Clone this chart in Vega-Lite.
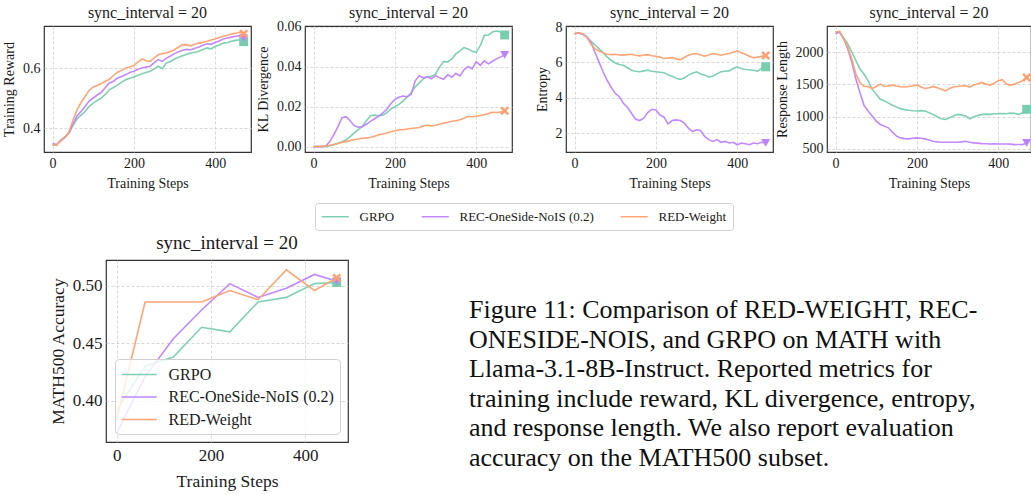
{
"$schema": "https://vega.github.io/schema/vega-lite/v6.json",
"background": "white",
"padding": {"left": 1, "top": 4, "right": 0, "bottom": 0},
"datasets": {
"reward": [
{"step":0,"GRPO":0.345,"REC":0.348,"RED":0.342},
{"step":10,"GRPO":0.342,"REC":0.345,"RED":0.344},
{"step":20,"GRPO":0.360,"REC":0.358,"RED":0.356},
{"step":30,"GRPO":0.370,"REC":0.368,"RED":0.369},
{"step":40,"GRPO":0.383,"REC":0.383,"RED":0.385},
{"step":50,"GRPO":0.408,"REC":0.412,"RED":0.425},
{"step":60,"GRPO":0.430,"REC":0.440,"RED":0.460},
{"step":70,"GRPO":0.443,"REC":0.455,"RED":0.485},
{"step":80,"GRPO":0.455,"REC":0.472,"RED":0.505},
{"step":90,"GRPO":0.472,"REC":0.490,"RED":0.525},
{"step":100,"GRPO":0.483,"REC":0.500,"RED":0.537},
{"step":110,"GRPO":0.492,"REC":0.510,"RED":0.542},
{"step":120,"GRPO":0.500,"REC":0.519,"RED":0.548},
{"step":130,"GRPO":0.512,"REC":0.535,"RED":0.556},
{"step":140,"GRPO":0.528,"REC":0.550,"RED":0.563},
{"step":150,"GRPO":0.535,"REC":0.556,"RED":0.575},
{"step":160,"GRPO":0.544,"REC":0.567,"RED":0.586},
{"step":170,"GRPO":0.553,"REC":0.572,"RED":0.592},
{"step":180,"GRPO":0.561,"REC":0.578,"RED":0.600},
{"step":190,"GRPO":0.566,"REC":0.585,"RED":0.603},
{"step":200,"GRPO":0.570,"REC":0.589,"RED":0.608},
{"step":210,"GRPO":0.576,"REC":0.596,"RED":0.620},
{"step":220,"GRPO":0.581,"REC":0.600,"RED":0.630},
{"step":230,"GRPO":0.585,"REC":0.603,"RED":0.624},
{"step":240,"GRPO":0.589,"REC":0.606,"RED":0.622},
{"step":250,"GRPO":0.597,"REC":0.618,"RED":0.634},
{"step":260,"GRPO":0.606,"REC":0.628,"RED":0.644},
{"step":270,"GRPO":0.598,"REC":0.622,"RED":0.648},
{"step":280,"GRPO":0.617,"REC":0.633,"RED":0.650},
{"step":290,"GRPO":0.622,"REC":0.640,"RED":0.655},
{"step":300,"GRPO":0.630,"REC":0.648,"RED":0.661},
{"step":310,"GRPO":0.636,"REC":0.654,"RED":0.670},
{"step":320,"GRPO":0.641,"REC":0.659,"RED":0.678},
{"step":330,"GRPO":0.646,"REC":0.662,"RED":0.677},
{"step":340,"GRPO":0.650,"REC":0.661,"RED":0.674},
{"step":350,"GRPO":0.652,"REC":0.666,"RED":0.679},
{"step":360,"GRPO":0.656,"REC":0.670,"RED":0.683},
{"step":370,"GRPO":0.662,"REC":0.676,"RED":0.686},
{"step":380,"GRPO":0.667,"REC":0.681,"RED":0.689},
{"step":390,"GRPO":0.664,"REC":0.679,"RED":0.693},
{"step":400,"GRPO":0.672,"REC":0.686,"RED":0.697},
{"step":410,"GRPO":0.677,"REC":0.690,"RED":0.702},
{"step":420,"GRPO":0.683,"REC":0.697,"RED":0.706},
{"step":430,"GRPO":0.685,"REC":0.700,"RED":0.709},
{"step":440,"GRPO":0.689,"REC":0.703,"RED":0.713},
{"step":450,"GRPO":0.692,"REC":0.706,"RED":0.716},
{"step":460,"GRPO":0.694,"REC":0.708,"RED":0.719},
{"step":470,"GRPO":0.688,"REC":0.700,"RED":0.714}
],
"kl": [
{"step":0,"GRPO":0,"REC":0,"RED":0},
{"step":10,"GRPO":0,"REC":0,"RED":0},
{"step":20,"GRPO":0,"REC":0,"RED":0.0001},
{"step":30,"GRPO":0.0001,"REC":0.0003,"RED":0.0003},
{"step":40,"GRPO":0.0004,"REC":0.0025,"RED":0.0007},
{"step":50,"GRPO":0.0010,"REC":0.0060,"RED":0.0011},
{"step":60,"GRPO":0.0017,"REC":0.0100,"RED":0.0016},
{"step":70,"GRPO":0.0025,"REC":0.0145,"RED":0.0021},
{"step":80,"GRPO":0.0034,"REC":0.0150,"RED":0.0025},
{"step":90,"GRPO":0.0050,"REC":0.0130,"RED":0.0030},
{"step":100,"GRPO":0.0068,"REC":0.0105,"RED":0.0034},
{"step":110,"GRPO":0.0085,"REC":0.0097,"RED":0.0038},
{"step":120,"GRPO":0.0101,"REC":0.0100,"RED":0.0042},
{"step":130,"GRPO":0.0130,"REC":0.0112,"RED":0.0044},
{"step":140,"GRPO":0.0155,"REC":0.0127,"RED":0.0046},
{"step":150,"GRPO":0.0158,"REC":0.0140,"RED":0.0052},
{"step":160,"GRPO":0.0155,"REC":0.0152,"RED":0.0059},
{"step":170,"GRPO":0.0158,"REC":0.0168,"RED":0.0063},
{"step":180,"GRPO":0.0169,"REC":0.0186,"RED":0.0068},
{"step":190,"GRPO":0.0188,"REC":0.0215,"RED":0.0075},
{"step":200,"GRPO":0.0200,"REC":0.0237,"RED":0.0080},
{"step":210,"GRPO":0.0212,"REC":0.0248,"RED":0.0083},
{"step":220,"GRPO":0.0228,"REC":0.0254,"RED":0.0085},
{"step":230,"GRPO":0.0248,"REC":0.0250,"RED":0.0088},
{"step":240,"GRPO":0.0270,"REC":0.0262,"RED":0.0091},
{"step":250,"GRPO":0.0300,"REC":0.0330,"RED":0.0093},
{"step":260,"GRPO":0.0320,"REC":0.0355,"RED":0.0096},
{"step":270,"GRPO":0.0340,"REC":0.0345,"RED":0.0104},
{"step":280,"GRPO":0.0352,"REC":0.0350,"RED":0.0107},
{"step":290,"GRPO":0.0352,"REC":0.0340,"RED":0.0104},
{"step":300,"GRPO":0.0363,"REC":0.0356,"RED":0.0107},
{"step":310,"GRPO":0.0400,"REC":0.0345,"RED":0.0112},
{"step":320,"GRPO":0.0426,"REC":0.0338,"RED":0.0118},
{"step":330,"GRPO":0.0425,"REC":0.0360,"RED":0.0122},
{"step":340,"GRPO":0.0440,"REC":0.0348,"RED":0.0127},
{"step":350,"GRPO":0.0465,"REC":0.0368,"RED":0.0130},
{"step":360,"GRPO":0.0480,"REC":0.0355,"RED":0.0135},
{"step":370,"GRPO":0.0497,"REC":0.0385,"RED":0.0142},
{"step":380,"GRPO":0.0490,"REC":0.0402,"RED":0.0152},
{"step":390,"GRPO":0.0478,"REC":0.0390,"RED":0.0150},
{"step":400,"GRPO":0.0473,"REC":0.0426,"RED":0.0152},
{"step":410,"GRPO":0.0507,"REC":0.0408,"RED":0.0156},
{"step":420,"GRPO":0.0558,"REC":0.0430,"RED":0.0160},
{"step":430,"GRPO":0.0560,"REC":0.0415,"RED":0.0166},
{"step":440,"GRPO":0.0575,"REC":0.0428,"RED":0.0172},
{"step":450,"GRPO":0.0580,"REC":0.0440,"RED":0.0171},
{"step":460,"GRPO":0.0575,"REC":0.0450,"RED":0.0174},
{"step":470,"GRPO":0.0560,"REC":0.0460,"RED":0.0180}
],
"entropy": [
{"step":0,"GRPO":7.62,"REC":7.62,"RED":7.62},
{"step":10,"GRPO":7.66,"REC":7.66,"RED":7.68},
{"step":20,"GRPO":7.62,"REC":7.60,"RED":7.62},
{"step":30,"GRPO":7.45,"REC":7.44,"RED":7.44},
{"step":40,"GRPO":7.20,"REC":7.16,"RED":7.06},
{"step":50,"GRPO":7.00,"REC":6.59,"RED":6.78},
{"step":60,"GRPO":6.78,"REC":6.03,"RED":6.65},
{"step":70,"GRPO":6.55,"REC":5.47,"RED":6.54},
{"step":80,"GRPO":6.31,"REC":5.00,"RED":6.46},
{"step":90,"GRPO":6.12,"REC":4.59,"RED":6.44},
{"step":100,"GRPO":5.97,"REC":4.25,"RED":6.46},
{"step":110,"GRPO":5.88,"REC":4.06,"RED":6.42},
{"step":120,"GRPO":5.84,"REC":3.69,"RED":6.41},
{"step":130,"GRPO":5.70,"REC":3.46,"RED":6.44},
{"step":140,"GRPO":5.56,"REC":3.12,"RED":6.46},
{"step":150,"GRPO":5.50,"REC":2.79,"RED":6.40},
{"step":160,"GRPO":5.47,"REC":2.71,"RED":6.37},
{"step":170,"GRPO":5.52,"REC":2.84,"RED":6.42},
{"step":180,"GRPO":5.56,"REC":3.16,"RED":6.44},
{"step":190,"GRPO":5.50,"REC":3.35,"RED":6.38},
{"step":200,"GRPO":5.47,"REC":3.31,"RED":6.35},
{"step":210,"GRPO":5.44,"REC":3.03,"RED":6.30},
{"step":220,"GRPO":5.41,"REC":2.90,"RED":6.22},
{"step":230,"GRPO":5.30,"REC":2.52,"RED":6.25},
{"step":240,"GRPO":5.22,"REC":2.71,"RED":6.27},
{"step":250,"GRPO":5.10,"REC":2.75,"RED":6.20},
{"step":260,"GRPO":5.04,"REC":2.71,"RED":6.16},
{"step":270,"GRPO":5.12,"REC":2.56,"RED":6.28},
{"step":280,"GRPO":5.28,"REC":2.28,"RED":6.41},
{"step":290,"GRPO":5.38,"REC":2.09,"RED":6.48},
{"step":300,"GRPO":5.47,"REC":2.19,"RED":6.50},
{"step":310,"GRPO":5.35,"REC":2.15,"RED":6.42},
{"step":320,"GRPO":5.28,"REC":1.81,"RED":6.35},
{"step":330,"GRPO":5.18,"REC":1.63,"RED":6.42},
{"step":340,"GRPO":5.22,"REC":1.53,"RED":6.50},
{"step":350,"GRPO":5.35,"REC":1.63,"RED":6.46},
{"step":360,"GRPO":5.47,"REC":1.48,"RED":6.41},
{"step":370,"GRPO":5.50,"REC":1.53,"RED":6.46},
{"step":380,"GRPO":5.52,"REC":1.44,"RED":6.50},
{"step":390,"GRPO":5.65,"REC":1.48,"RED":6.58},
{"step":400,"GRPO":5.75,"REC":1.34,"RED":6.65},
{"step":410,"GRPO":5.65,"REC":1.44,"RED":6.55},
{"step":420,"GRPO":5.60,"REC":1.40,"RED":6.46},
{"step":430,"GRPO":5.58,"REC":1.34,"RED":6.35},
{"step":440,"GRPO":5.56,"REC":1.44,"RED":6.27},
{"step":450,"GRPO":5.50,"REC":1.40,"RED":6.30},
{"step":460,"GRPO":5.66,"REC":1.48,"RED":6.35},
{"step":470,"GRPO":5.75,"REC":1.44,"RED":6.39}
],
"length": [
{"step":0,"GRPO":2312,"REC":2286,"RED":2312},
{"step":10,"GRPO":2312,"REC":2312,"RED":2323},
{"step":20,"GRPO":2219,"REC":2208,"RED":2208},
{"step":30,"GRPO":2130,"REC":2052,"RED":2078},
{"step":40,"GRPO":2000,"REC":1844,"RED":1896},
{"step":50,"GRPO":1870,"REC":1583,"RED":1661},
{"step":60,"GRPO":1740,"REC":1375,"RED":1531},
{"step":70,"GRPO":1661,"REC":1177,"RED":1469},
{"step":80,"GRPO":1557,"REC":1089,"RED":1469},
{"step":90,"GRPO":1427,"REC":1010,"RED":1437},
{"step":100,"GRPO":1349,"REC":932,"RED":1469},
{"step":110,"GRPO":1271,"REC":880,"RED":1505},
{"step":120,"GRPO":1245,"REC":854,"RED":1469},
{"step":130,"GRPO":1210,"REC":828,"RED":1480},
{"step":140,"GRPO":1177,"REC":760,"RED":1490},
{"step":150,"GRPO":1150,"REC":698,"RED":1475},
{"step":160,"GRPO":1125,"REC":672,"RED":1464},
{"step":170,"GRPO":1110,"REC":660,"RED":1460},
{"step":180,"GRPO":1099,"REC":656,"RED":1469},
{"step":190,"GRPO":1092,"REC":665,"RED":1480},
{"step":200,"GRPO":1089,"REC":672,"RED":1490},
{"step":210,"GRPO":1095,"REC":665,"RED":1460},
{"step":220,"GRPO":1089,"REC":656,"RED":1437},
{"step":230,"GRPO":1060,"REC":640,"RED":1450},
{"step":240,"GRPO":1036,"REC":620,"RED":1469},
{"step":250,"GRPO":1000,"REC":610,"RED":1450},
{"step":260,"GRPO":969,"REC":604,"RED":1427},
{"step":270,"GRPO":958,"REC":604,"RED":1401},
{"step":280,"GRPO":984,"REC":604,"RED":1437},
{"step":290,"GRPO":1010,"REC":604,"RED":1460},
{"step":300,"GRPO":1036,"REC":604,"RED":1469},
{"step":310,"GRPO":1025,"REC":610,"RED":1475},
{"step":320,"GRPO":1010,"REC":620,"RED":1479},
{"step":330,"GRPO":969,"REC":605,"RED":1460},
{"step":340,"GRPO":1000,"REC":594,"RED":1490},
{"step":350,"GRPO":1020,"REC":590,"RED":1510},
{"step":360,"GRPO":1036,"REC":583,"RED":1531},
{"step":370,"GRPO":1040,"REC":580,"RED":1505},
{"step":380,"GRPO":1036,"REC":578,"RED":1490},
{"step":390,"GRPO":1045,"REC":580,"RED":1520},
{"step":400,"GRPO":1047,"REC":578,"RED":1557},
{"step":410,"GRPO":1050,"REC":578,"RED":1573},
{"step":420,"GRPO":1047,"REC":578,"RED":1505},
{"step":430,"GRPO":1055,"REC":575,"RED":1490},
{"step":440,"GRPO":1052,"REC":568,"RED":1505},
{"step":450,"GRPO":1036,"REC":570,"RED":1531},
{"step":460,"GRPO":1062,"REC":568,"RED":1557},
{"step":470,"GRPO":1115,"REC":594,"RED":1609}
],
"math500": [
{"step":0,"GRPO":0.392,"REC":0.372,"RED":0.384},
{"step":60,"GRPO":0.430,"REC":0.421,"RED":0.486},
{"step":120,"GRPO":0.438,"REC":0.454,"RED":0.486},
{"step":180,"GRPO":0.464,"REC":0.479,"RED":0.486},
{"step":240,"GRPO":0.460,"REC":0.502,"RED":0.496},
{"step":300,"GRPO":0.486,"REC":0.490,"RED":0.488},
{"step":360,"GRPO":0.490,"REC":0.498,"RED":0.514},
{"step":420,"GRPO":0.502,"REC":0.510,"RED":0.496},
{"step":467,"GRPO":0.503,"REC":0.504,"RED":0.507}
],
"caption": [
{"line":1,"text":"Figure 11: Comparison of RED-WEIGHT, REC-"},
{"line":2,"text":"ONESIDE-NOIS, and GRPO on MATH with"},
{"line":3,"text":"Llama-3.1-8B-Instruct. Reported metrics for"},
{"line":4,"text":"training include reward, KL divergence, entropy,"},
{"line":5,"text":"and response length. We also report evaluation"},
{"line":6,"text":"accuracy on the MATH500 subset."}
]
},
"vconcat": [
{
"hconcat": [
{
"width": 207, "height": 126,
"title": "sync_interval = 20",
"data": {"name": "reward"},
"encoding": {
"x": {"field":"step","type":"quantitative","scale":{"domain":[-21,488],"nice":false,"zero":false},"axis":{"values":[0,200,400],"title":"Training Steps"}},
"y": {"field":"value","type":"quantitative","scale":{"domain":[0.32,0.74],"nice":false,"zero":false},"axis":{"values":[0.4,0.6],"format":".1f","title":"Training Reward"}}
},
"layer": [
{"transform": [{"fold": ["GRPO","REC","RED"], "as": ["method","value"]}],
"mark":{"type":"line","strokeWidth":1.6,"opacity":0.95},
"encoding":{"color":{"field":"method","type":"nominal","scale":{"domain":["GRPO","REC","RED"],"range":["#78cdaf","#be82ff","#ffa06e"]},
"legend":{"orient":"none","legendX":271,"legendY":177,"direction":"horizontal","columns":3,"title":null,"symbolType":"M-1,0H3","symbolSize":182,"symbolStrokeWidth":1.5,"labelFontSize":13,"labelFontWeight":"normal","labelLimit":400,"labelOffset":23.5,"columnPadding":23,"padding":6,"strokeColor":"#d0d0d0","fillColor":"white","cornerRadius":3,"labelExpr":"datum.label == 'REC' ? 'REC-OneSide-NoIS (0.2)' : datum.label == 'RED' ? 'RED-Weight' : datum.label"}}}},
{"transform":[{"fold": ["GRPO","REC","RED"], "as": ["series","value"]},{"filter":{"field":"step","equal":470}}],
"mark":{"type":"point","filled":true,"size":80,"opacity":1,"strokeWidth":0},
"encoding":{"fill":{"field":"series","type":"nominal","scale":{"domain":["RED","REC","GRPO"],"range":["#ffa06e","#be82ff","#78cdaf"]},"legend":null},
"shape":{"field":"series","type":"nominal","scale":{"domain":["RED","REC","GRPO"],"range":["M-1,-0.6L-0.6,-1L0,-0.4L0.6,-1L1,-0.6L0.4,0L1,0.6L0.6,1L0,0.4L-0.6,1L-1,0.6L-0.4,0Z","triangle-down","square"]},"legend":null}}}
]
},
{
"width": 207, "height": 126,
"title": {"text": "sync_interval = 20", "offset": -1},
"data": {"name": "kl"},
"encoding": {
"x": {"field":"step","type":"quantitative","scale":{"domain":[-21,488],"nice":false,"zero":false},"axis":{"values":[0,200,400],"title":"Training Steps"}},
"y": {"field":"value","type":"quantitative","scale":{"domain":[-0.0027,0.0605],"nice":false,"zero":false},"axis":{"values":[0,0.02,0.04,0.06],"format":".2f","title":"KL Divergence"}}
},
"layer": [
{"transform": [{"fold": ["GRPO","REC","RED"], "as": ["method","value"]}],
"mark":{"type":"line","strokeWidth":1.6,"opacity":0.95},
"encoding":{"color":{"field":"method","type":"nominal","scale":{"domain":["GRPO","REC","RED"],"range":["#78cdaf","#be82ff","#ffa06e"]},"legend":null}}},
{"transform":[{"fold": ["GRPO","REC","RED"], "as": ["series","value"]},{"filter":{"field":"step","equal":470}}],
"mark":{"type":"point","filled":true,"size":80,"opacity":1,"strokeWidth":0},
"encoding":{"fill":{"field":"series","type":"nominal","scale":{"domain":["RED","REC","GRPO"],"range":["#ffa06e","#be82ff","#78cdaf"]},"legend":null},
"shape":{"field":"series","type":"nominal","scale":{"domain":["RED","REC","GRPO"],"range":["M-1,-0.6L-0.6,-1L0,-0.4L0.6,-1L1,-0.6L0.4,0L1,0.6L0.6,1L0,0.4L-0.6,1L-1,0.6L-0.4,0Z","triangle-down","square"]},"legend":null}}}
]
},
{
"width": 207, "height": 126,
"title": {"text": "sync_interval = 20", "offset": -1},
"data": {"name": "entropy"},
"encoding": {
"x": {"field":"step","type":"quantitative","scale":{"domain":[-21,488],"nice":false,"zero":false},"axis":{"values":[0,200,400],"title":"Training Steps"}},
"y": {"field":"value","type":"quantitative","scale":{"domain":[0.93,8.06],"nice":false,"zero":false},"axis":{"values":[2,4,6,8],"format":"d","title":"Entropy"}}
},
"layer": [
{"transform": [{"fold": ["GRPO","REC","RED"], "as": ["method","value"]}],
"mark":{"type":"line","strokeWidth":1.6,"opacity":0.95},
"encoding":{"color":{"field":"method","type":"nominal","scale":{"domain":["GRPO","REC","RED"],"range":["#78cdaf","#be82ff","#ffa06e"]},"legend":null}}},
{"transform":[{"fold": ["GRPO","REC","RED"], "as": ["series","value"]},{"filter":{"field":"step","equal":470}}],
"mark":{"type":"point","filled":true,"size":80,"opacity":1,"strokeWidth":0},
"encoding":{"fill":{"field":"series","type":"nominal","scale":{"domain":["RED","REC","GRPO"],"range":["#ffa06e","#be82ff","#78cdaf"]},"legend":null},
"shape":{"field":"series","type":"nominal","scale":{"domain":["RED","REC","GRPO"],"range":["M-1,-0.6L-0.6,-1L0,-0.4L0.6,-1L1,-0.6L0.4,0L1,0.6L0.6,1L0,0.4L-0.6,1L-1,0.6L-0.4,0Z","triangle-down","square"]},"legend":null}}}
]
},
{
"width": 204, "height": 126,
"title": "sync_interval = 20",
"data": {"name": "length"},
"encoding": {
"x": {"field":"step","type":"quantitative","scale":{"domain":[-21,480.6],"nice":false,"zero":false},"axis":{"values":[0,200,400],"title":"Training Steps"}},
"y": {"field":"value","type":"quantitative","scale":{"domain":[453,2406],"nice":false,"zero":false},"axis":{"values":[500,1000,1500,2000],"format":"d","title":"Response Length"}}
},
"layer": [
{"transform": [{"fold": ["GRPO","REC","RED"], "as": ["method","value"]}],
"mark":{"type":"line","strokeWidth":1.6,"opacity":0.95},
"encoding":{"color":{"field":"method","type":"nominal","scale":{"domain":["GRPO","REC","RED"],"range":["#78cdaf","#be82ff","#ffa06e"]},"legend":null}}},
{"transform":[{"fold": ["GRPO","REC","RED"], "as": ["series","value"]},{"filter":{"field":"step","equal":470}}],
"mark":{"type":"point","filled":true,"size":80,"opacity":1,"strokeWidth":0},
"encoding":{"fill":{"field":"series","type":"nominal","scale":{"domain":["RED","REC","GRPO"],"range":["#ffa06e","#be82ff","#78cdaf"]},"legend":null},
"shape":{"field":"series","type":"nominal","scale":{"domain":["RED","REC","GRPO"],"range":["M-1,-0.6L-0.6,-1L0,-0.4L0.6,-1L1,-0.6L0.4,0L1,0.6L0.6,1L0,0.4L-0.6,1L-1,0.6L-0.4,0Z","triangle-down","square"]},"legend":null}}}
]
}
],
"spacing": 54,
"bounds": "flush",
"resolve": {"scale": {"color": "independent", "fill": "independent", "shape": "independent"}, "legend": {"color": "independent", "fill": "independent", "shape": "independent"}}
},
{
"hconcat": [
{"width": 1, "height": 1, "data": {"values": []}, "mark": "text", "encoding": {}, "view": {"stroke": null}},
{
"hconcat": [
{
"width": 242, "height": 182,
"title": {"text": "sync_interval = 20", "fontSize": 19, "offset": 7},
"data": {"name": "math500"},
"encoding": {
"x": {"field":"step","type":"quantitative","scale":{"domain":[-23,491],"nice":false,"zero":false},"axis":{"values":[0,200,400],"title":"Training Steps","labelFontSize":17,"titleFontSize":17.5,"labelPadding":5,"titlePadding":9}},
"y": {"field":"value","type":"quantitative","scale":{"domain":[0.364,0.5226],"nice":false,"zero":false},"axis":{"values":[0.4,0.45,0.5],"format":".2f","title":"MATH500 Accuracy","labelFontSize":17,"titleFontSize":17.5,"labelPadding":4,"titlePadding":5}}
},
"layer": [
{"transform": [{"fold": ["GRPO","REC","RED"], "as": ["method","value"]}],
"mark":{"type":"line","strokeWidth":1.6,"opacity":0.95},
"encoding":{"color":{"field":"method","type":"nominal","scale":{"domain":["GRPO","REC","RED"],"range":["#78cdaf","#be82ff","#ffa06e"]},
"legend":{"orient":"none","legendX":9,"legendY":99,"direction":"vertical","title":null,"symbolType":"M-1,0H3","symbolSize":306,"symbolStrokeWidth":1.5,"labelFontSize":16,"labelFontWeight":"normal","labelLimit":400,"labelOffset":28.5,"rowPadding":4.5,"padding":6,"strokeColor":"#d0d0d0","fillColor":"rgba(255,255,255,0.8)","cornerRadius":4,"labelExpr":"datum.label == 'REC' ? 'REC-OneSide-NoIS (0.2)' : datum.label == 'RED' ? 'RED-Weight' : datum.label"}}}},
{"transform":[{"fold": ["GRPO","REC","RED"], "as": ["series","value"]},{"filter":{"field":"step","equal":467}}],
"mark":{"type":"point","filled":true,"size":80,"opacity":1,"strokeWidth":0},
"encoding":{"fill":{"field":"series","type":"nominal","scale":{"domain":["RED","REC","GRPO"],"range":["#ffa06e","#be82ff","#78cdaf"]},"legend":null},
"shape":{"field":"series","type":"nominal","scale":{"domain":["RED","REC","GRPO"],"range":["M-1,-0.6L-0.6,-1L0,-0.4L0.6,-1L1,-0.6L0.4,0L1,0.6L0.6,1L0,0.4L-0.6,1L-1,0.6L-0.4,0Z","triangle-down","square"]},"legend":null}}}
]
},
{
"width": 560, "height": 206,
"data": {"name": "caption"},
"mark": {"type": "text", "align": "left", "baseline": "alphabetic", "font": "Liberation Serif", "fontSize": 26, "color": "#111111"},
"encoding": {
"x": {"datum": 0, "type": "quantitative", "scale": {"domain": [0, 1], "nice": false, "zero": false}, "axis": null},
"y": {"field": "line", "type": "quantitative", "scale": {"domain": [-0.9595, 6], "nice": false, "zero": false, "reverse": true}, "axis": null},
"text": {"field": "text"}
},
"view": {"stroke": null}
}
],
"spacing": 121,
"bounds": "flush",
"resolve": {"scale": {"color": "independent", "fill": "independent", "shape": "independent"}, "legend": {"color": "independent", "fill": "independent", "shape": "independent"}}
}
],
"spacing": 61,
"bounds": "flush",
"resolve": {"scale": {"color": "independent", "fill": "independent", "shape": "independent"}, "legend": {"color": "independent", "fill": "independent", "shape": "independent"}}
}
],
"spacing": 234,
"bounds": "flush",
"resolve": {"scale": {"color": "independent", "fill": "independent", "shape": "independent"}, "legend": {"color": "independent", "fill": "independent", "shape": "independent"}},
"config": {
"font": "Liberation Serif",
"view": {"stroke": "#333333", "strokeWidth": 1.2},
"axis": {"grid": true, "gridColor": "#cfcfcf", "gridDash": [3, 2], "gridWidth": 0.8, "domain": false, "ticks": false, "labelFont": "Liberation Serif", "labelFontSize": 14, "labelColor": "#1a1a1a", "labelPadding": 4, "titleFont": "Liberation Serif", "titleFontSize": 14, "titleFontWeight": "normal", "titleColor": "#1a1a1a", "titlePadding": 6},
"title": {"font": "Liberation Serif", "fontSize": 16, "fontWeight": "normal", "color": "#1a1a1a", "offset": 5, "frame": "group"},
"legend": {"labelFont": "Liberation Serif", "labelColor": "#1a1a1a", "labelFontWeight": "normal"}
}
}
